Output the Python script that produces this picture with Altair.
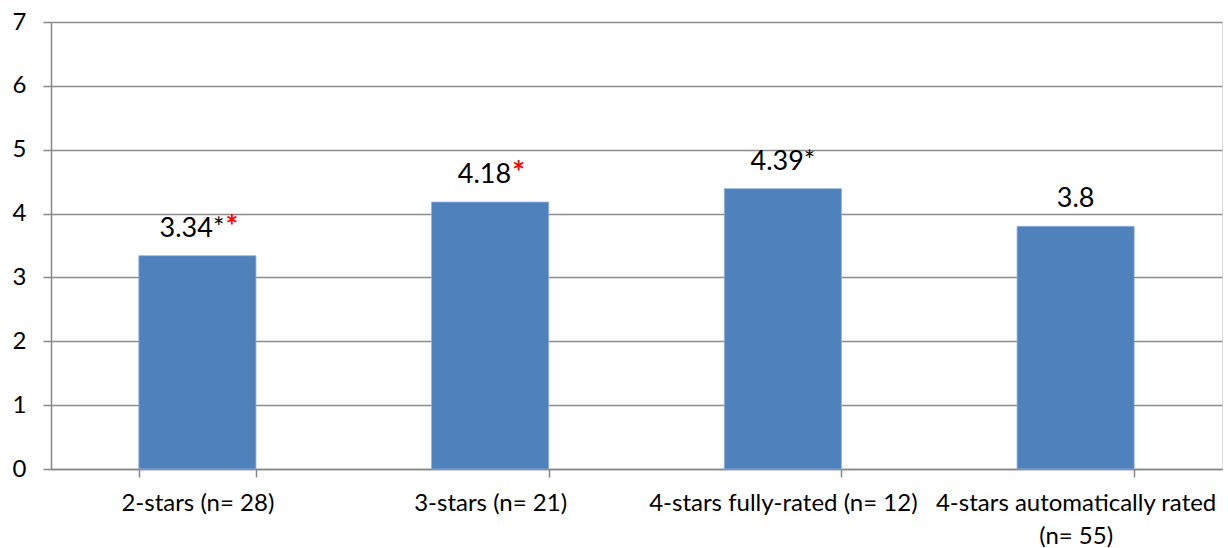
import altair as alt
import pandas as pd

categories = ["2-stars (n= 28)", "3-stars (n= 21)", "4-stars fully-rated (n= 12)",
              "4-stars automatically rated\n(n= 55)"]
values = [3.34, 4.18, 4.39, 3.8]
black_labels = ["3.34*", "4.18", "4.39*", "3.8"]
red_labels = ["*", "*", "", ""]
y_ticks = [0, 1, 2, 3, 4, 5, 6, 7]

df = pd.DataFrame({"cat": categories, "val": values,
                   "black": black_labels, "red": red_labels})

FONT = "Lato"
W, H = 1171, 447

x_enc = alt.X("cat:N", sort=categories, title=None,
              scale=alt.Scale(paddingInner=0.6, paddingOuter=0.3),
              axis=alt.Axis(labelAngle=0, labelFont=FONT, labelFontSize=24,
                            labelColor="#000000", labelPadding=14,
                            labelExpr="split(datum.label, '\\n')",
                            labelLineHeight=33, labelLimit=400,
                            tickBand="extent", tickSize=8, tickColor="#868686",
                            tickWidth=1.5, domainColor="#868686", domainWidth=1.5,
                            grid=False))
y_enc = alt.Y("val:Q", title=None,
              scale=alt.Scale(domain=[0, 7], nice=False),
              axis=alt.Axis(values=y_ticks, format="d", labelFont=FONT, labelFontSize=24,
                            labelColor="#000000", labelPadding=17,
                            tickSize=8, tickColor="#868686", tickWidth=1.5,
                            domainColor="#868686", domainWidth=1.5,
                            gridColor="#8c8c8c", gridWidth=1.5))

base = alt.Chart(df)
bars = base.mark_bar(color="#4F81BD", stroke="#8DB0DA", strokeWidth=0.8).encode(x=x_enc, y=y_enc)

layers = [bars]
text_props = dict(font=FONT, baseline="alphabetic", dy=-19)
dxs = {"3.34*": 27, "4.18": 21}
for cat, blk, red in zip(categories, black_labels, red_labels):
    sub = base.transform_filter(alt.datum.cat == cat)
    if red:
        d = dxs.get(blk, 20)
        layers.append(sub.mark_text(align="right", dx=d, color="#000000", fontSize=27, **text_props)
                      .encode(x=alt.X("cat:N", sort=categories), y="val:Q", text="black:N"))
        layers.append(sub.mark_text(align="left", dx=d + 1, color="#FF0000",
                                    fontWeight="bold", fontSize=30, **text_props)
                      .encode(x=alt.X("cat:N", sort=categories), y="val:Q", text="red:N"))
    else:
        layers.append(sub.mark_text(align="center", color="#000000", fontSize=27, **text_props)
                      .encode(x=alt.X("cat:N", sort=categories), y="val:Q", text="black:N"))

chart = alt.layer(*layers).properties(
    width=W, height=H,
    autosize=alt.AutoSizeParams(type="none"),
    padding={"left": 51, "top": 22, "right": 6, "bottom": 79},
).configure_view(stroke=None).configure(background="white")

chart.save("out.html", embed_options={"renderer": "svg", "actions": False})
